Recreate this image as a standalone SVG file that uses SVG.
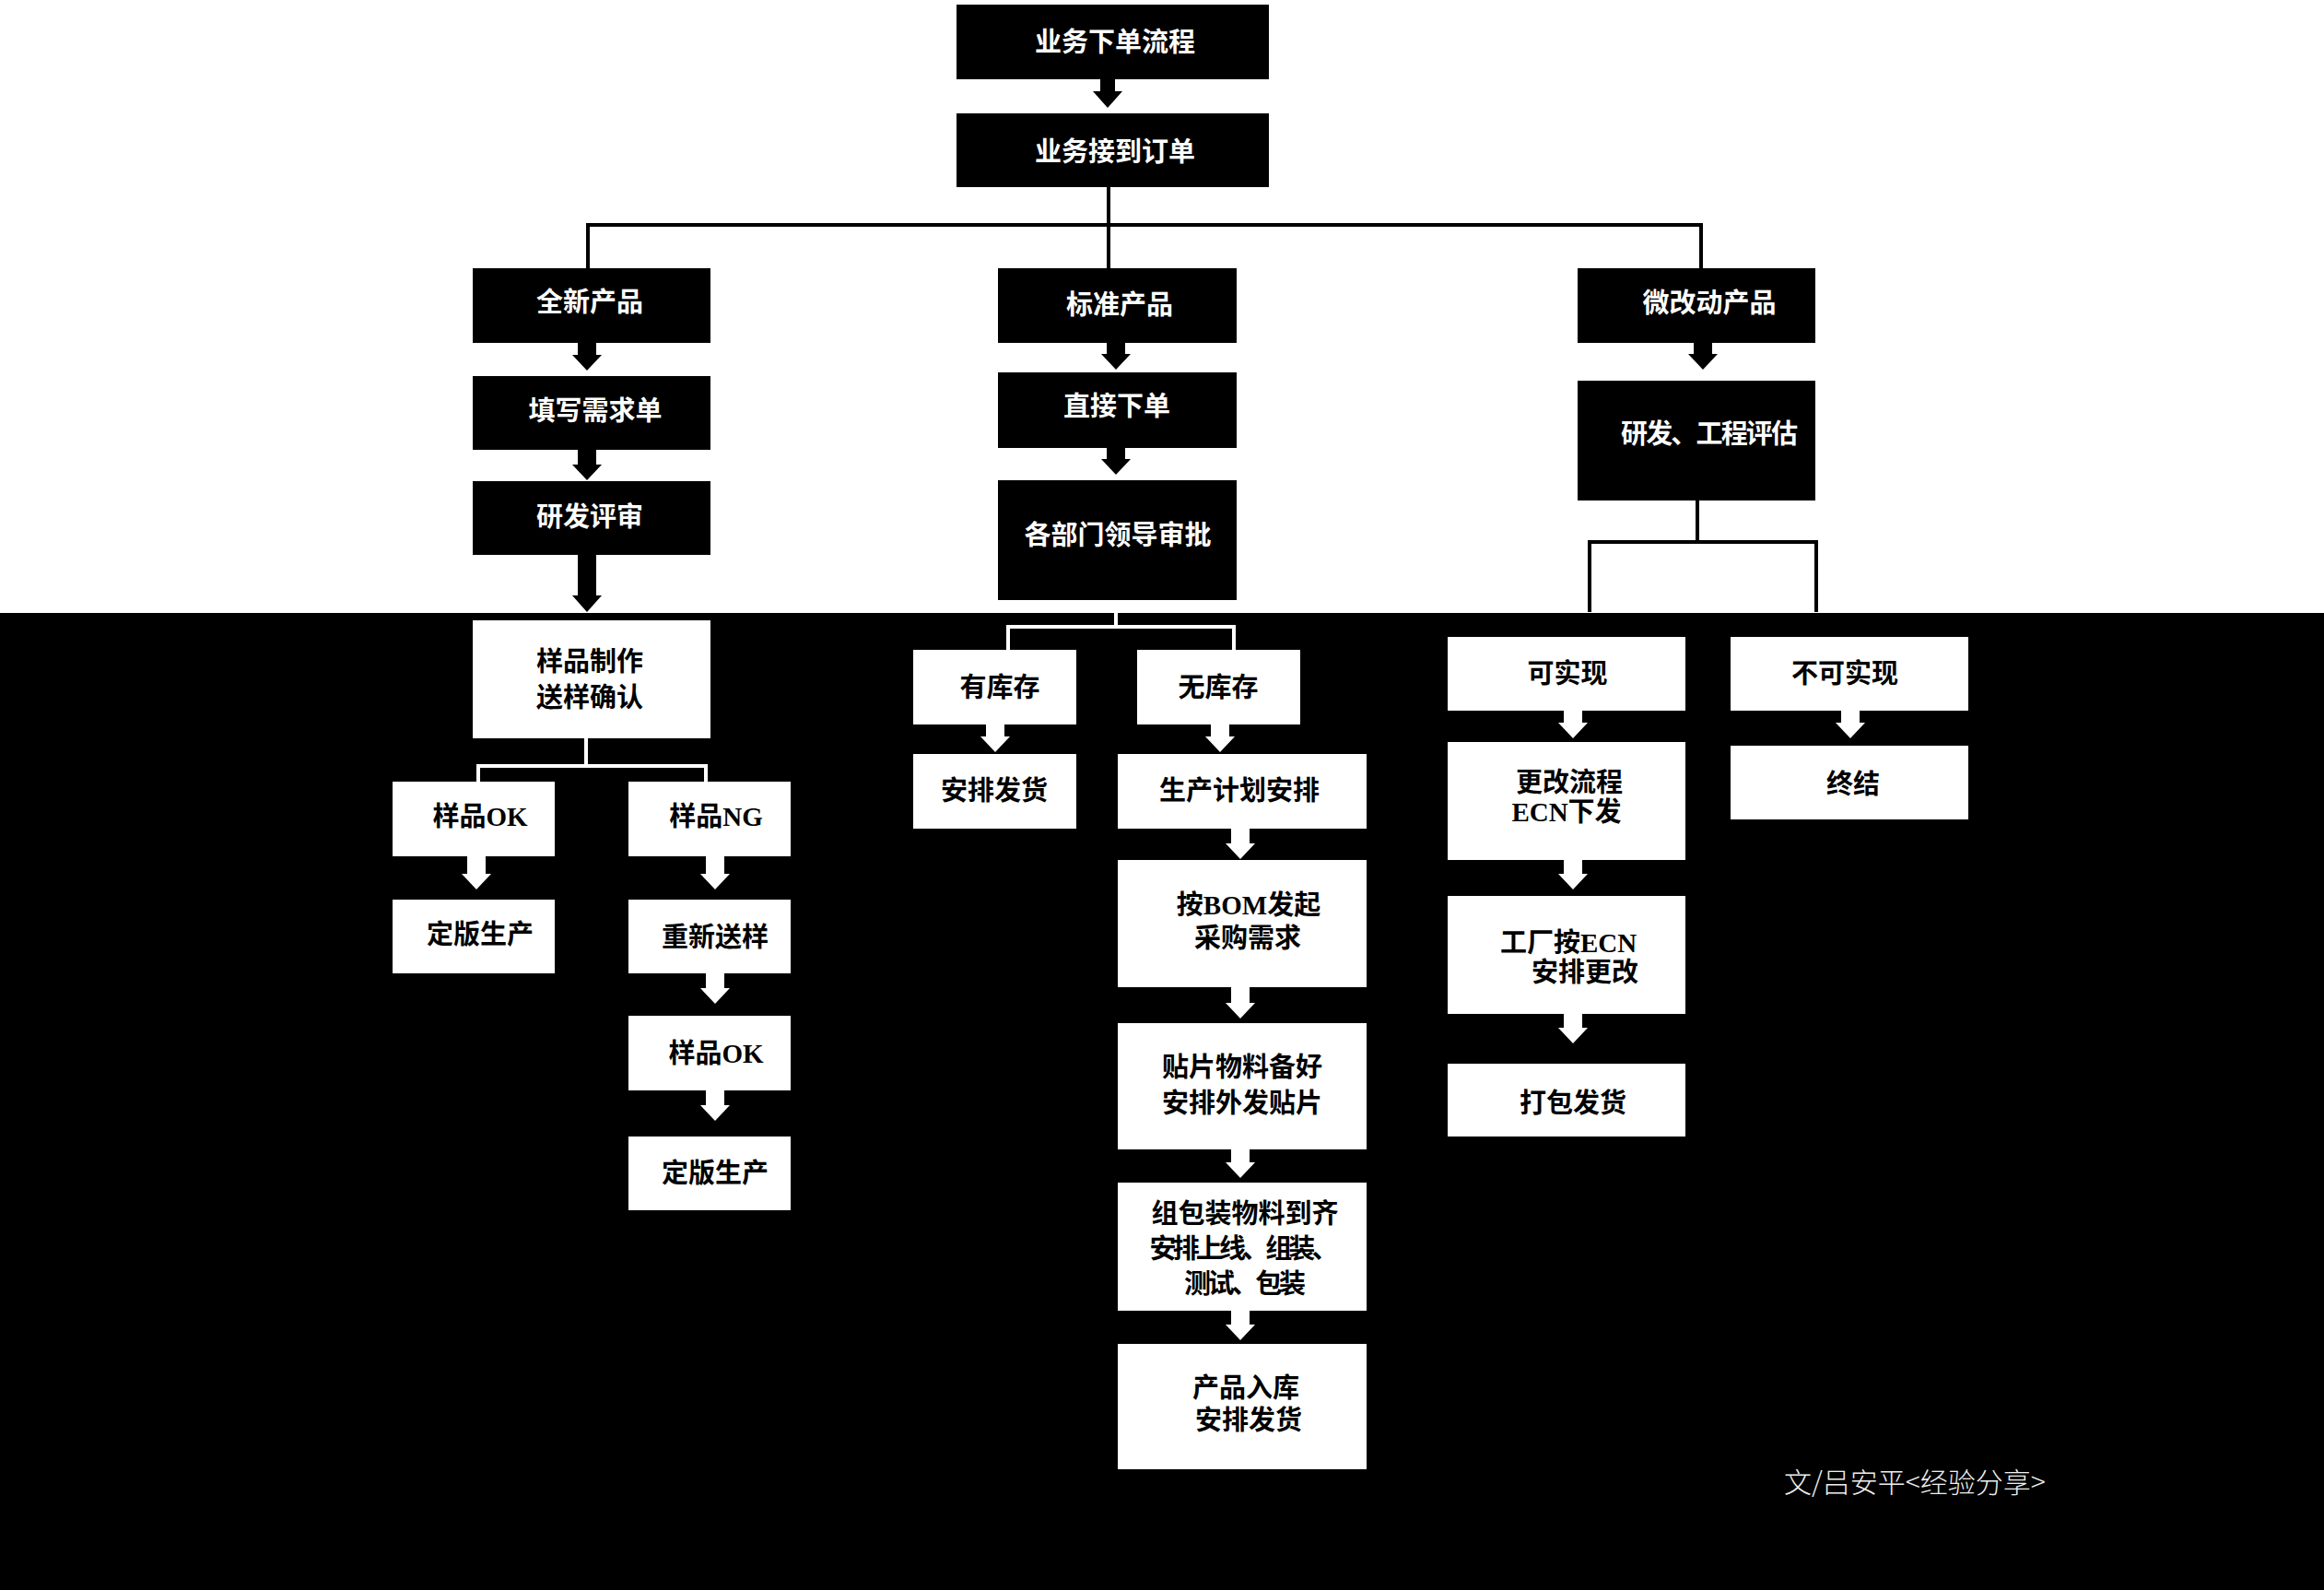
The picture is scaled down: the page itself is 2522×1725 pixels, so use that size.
<svg xmlns="http://www.w3.org/2000/svg" width="2522" height="1725" viewBox="0 0 2522 1725">
<style>
.bbox{fill:#000}
.wbox{fill:#fff}
.tw{fill:#fff;font-family:"Liberation Serif","Noto Sans CJK SC",serif;font-size:29px;font-weight:bold;text-anchor:middle;dominant-baseline:central}
.tb{fill:#000;font-family:"Liberation Serif","Noto Sans CJK SC",serif;font-size:29px;font-weight:bold;text-anchor:middle;dominant-baseline:central}
.lb{stroke:#000;stroke-width:4;fill:none}
.lw{stroke:#fff;stroke-width:4;fill:none}
.ab{fill:#000}
.aw{fill:#fff}
.foot{fill:#eee;font-family:"Noto Sans CJK SC",sans-serif;font-size:30px;font-weight:300;dominant-baseline:central}
</style>
<rect x="0" y="0" width="2522" height="1725" fill="#000"/>
<rect x="0" y="0" width="2522" height="665" fill="#fff"/>

<g id="connectors">
<path class="lb" d="M1203,203 V291 M638,291 V244 H1846 V291"/>
<path class="lb" d="M1842,543 V588 M1725,664 V588 H1971 V664"/>
<path class="lw" d="M636,801 V831 M519,848 V831 H766 V848"/>
<path class="lw" d="M1211,649 V680 M1094,705 V680 H1339 V705"/>
<polygon class="ab" points="1194,86 1210,86 1210,99 1218,99 1202,117 1186,99 1194,99"/>
<polygon class="ab" points="627,372 647,372 647,385 653,385 637,402 621,385 627,385"/>
<polygon class="ab" points="627,488 647,488 647,504 653,504 637,521 621,504 627,504"/>
<polygon class="ab" points="627,602 647,602 647,646 653,646 637,664 621,646 627,646"/>
<polygon class="ab" points="1201,372 1221,372 1221,384 1227,384 1211,401 1195,384 1201,384"/>
<polygon class="ab" points="1201,486 1221,486 1221,498 1227,498 1211,515 1195,498 1201,498"/>
<polygon class="ab" points="1838,372 1858,372 1858,384 1864,384 1848,401 1832,384 1838,384"/>
<polygon class="aw" points="1070,786 1090,786 1090,799 1096,799 1080,816 1064,799 1070,799"/>
<polygon class="aw" points="1314,786 1334,786 1334,799 1340,799 1324,816 1308,799 1314,799"/>
<polygon class="aw" points="1336,899 1356,899 1356,915 1362,915 1346,932 1330,915 1336,915"/>
<polygon class="aw" points="1336,1071 1356,1071 1356,1088 1362,1088 1346,1105 1330,1088 1336,1088"/>
<polygon class="aw" points="1336,1247 1356,1247 1356,1261 1362,1261 1346,1278 1330,1261 1336,1261"/>
<polygon class="aw" points="1336,1422 1356,1422 1356,1437 1362,1437 1346,1454 1330,1437 1336,1437"/>
<polygon class="aw" points="507,929 527,929 527,948 533,948 517,965 501,948 507,948"/>
<polygon class="aw" points="766,929 786,929 786,948 792,948 776,965 760,948 766,948"/>
<polygon class="aw" points="766,1056 786,1056 786,1072 792,1072 776,1089 760,1072 766,1072"/>
<polygon class="aw" points="766,1183 786,1183 786,1199 792,1199 776,1216 760,1199 766,1199"/>
<polygon class="aw" points="1697,771 1717,771 1717,784 1723,784 1707,801 1691,784 1697,784"/>
<polygon class="aw" points="1697,933 1717,933 1717,948 1723,948 1707,965 1691,948 1697,948"/>
<polygon class="aw" points="1697,1100 1717,1100 1717,1115 1723,1115 1707,1132 1691,1115 1697,1115"/>
<polygon class="aw" points="1998,771 2018,771 2018,784 2024,784 2008,801 1992,784 1998,784"/>
</g>

<g id="n1"><rect class="bbox" x="1038" y="5" width="339" height="81"/><text class="tw" x="1210" y="46">业务下单流程</text></g>
<g id="n2"><rect class="bbox" x="1038" y="123" width="339" height="80"/><text class="tw" x="1210" y="165">业务接到订单</text></g>
<g id="n3"><rect class="bbox" x="513" y="291" width="258" height="81"/><text class="tw" x="640" y="328">全新产品</text></g>
<g id="n4"><rect class="bbox" x="513" y="408" width="258" height="80"/><text class="tw" x="646" y="446">填写需求单</text></g>
<g id="n5"><rect class="bbox" x="513" y="522" width="258" height="80"/><text class="tw" x="640" y="561">研发评审</text></g>
<g id="n6"><rect class="bbox" x="1083" y="291" width="259" height="81"/><text class="tw" x="1215" y="331">标准产品</text></g>
<g id="n7"><rect class="bbox" x="1083" y="404" width="259" height="82"/><text class="tw" x="1212" y="441">直接下单</text></g>
<g id="n8"><rect class="bbox" x="1083" y="521" width="259" height="130"/><text class="tw" x="1213" y="581">各部门领导审批</text></g>
<g id="n9"><rect class="bbox" x="1712" y="291" width="258" height="81"/><text class="tw" x="1855" y="329">微改动产品</text></g>
<g id="n10"><rect class="bbox" x="1712" y="413" width="258" height="130"/><text class="tw" x="1855" y="471" textLength="192" lengthAdjust="spacing">研发、工程评估</text></g>

<g id="n11"><rect class="wbox" x="513" y="673" width="258" height="128"/><text class="tb" x="640" y="718">样品制作</text><text class="tb" x="640" y="757">送样确认</text></g>
<g id="n12"><rect class="wbox" x="426" y="848" width="176" height="81"/><text class="tb" x="521" y="886">样品OK</text></g>
<g id="n13"><rect class="wbox" x="682" y="848" width="176" height="81"/><text class="tb" x="777" y="886">样品NG</text></g>
<g id="n14"><rect class="wbox" x="426" y="976" width="176" height="80"/><text class="tb" x="521" y="1014">定版生产</text></g>
<g id="n15"><rect class="wbox" x="682" y="976" width="176" height="80"/><text class="tb" x="776" y="1017">重新送样</text></g>
<g id="n16"><rect class="wbox" x="682" y="1102" width="176" height="81"/><text class="tb" x="777" y="1143">样品OK</text></g>
<g id="n17"><rect class="wbox" x="682" y="1233" width="176" height="80"/><text class="tb" x="776" y="1273">定版生产</text></g>

<g id="n18"><rect class="wbox" x="991" y="705" width="177" height="81"/><text class="tb" x="1085" y="746">有库存</text></g>
<g id="n19"><rect class="wbox" x="1234" y="705" width="177" height="81"/><text class="tb" x="1322" y="746">无库存</text></g>
<g id="n20"><rect class="wbox" x="991" y="818" width="177" height="81"/><text class="tb" x="1079" y="858">安排发货</text></g>
<g id="n21"><rect class="wbox" x="1213" y="818" width="270" height="81"/><text class="tb" x="1345" y="858">生产计划安排</text></g>
<g id="n22"><rect class="wbox" x="1213" y="933" width="270" height="138"/><text class="tb" x="1355" y="982">按BOM发起</text><text class="tb" x="1354" y="1018">采购需求</text></g>
<g id="n23"><rect class="wbox" x="1213" y="1110" width="270" height="137"/><text class="tb" x="1348" y="1158">贴片物料备好</text><text class="tb" x="1348" y="1197">安排外发贴片</text></g>
<g id="n24"><rect class="wbox" x="1213" y="1283" width="270" height="139"/><text class="tb" x="1351" y="1317">组包装物料到齐</text><text class="tb" x="1350" y="1355" textLength="205" lengthAdjust="spacing">安排上线、组装、</text><text class="tb" x="1351" y="1393" textLength="132" lengthAdjust="spacing">测试、包装</text></g>
<g id="n25"><rect class="wbox" x="1213" y="1458" width="270" height="136"/><text class="tb" x="1352" y="1506">产品入库</text><text class="tb" x="1355" y="1541">安排发货</text></g>

<g id="n26"><rect class="wbox" x="1571" y="691" width="258" height="80"/><text class="tb" x="1701" y="731">可实现</text></g>
<g id="n27"><rect class="wbox" x="1878" y="691" width="258" height="80"/><text class="tb" x="2002" y="731">不可实现</text></g>
<g id="n28"><rect class="wbox" x="1571" y="805" width="258" height="128"/><text class="tb" x="1703" y="849">更改流程</text><text class="tb" x="1700" y="881">ECN下发</text></g>
<g id="n29"><rect class="wbox" x="1878" y="809" width="258" height="80"/><text class="tb" x="2011" y="851">终结</text></g>
<g id="n30"><rect class="wbox" x="1571" y="972" width="258" height="128"/><text class="tb" x="1702" y="1023">工厂按ECN</text><text class="tb" x="1720" y="1055">安排更改</text></g>
<g id="n31"><rect class="wbox" x="1571" y="1154" width="258" height="79"/><text class="tb" x="1707" y="1197">打包发货</text></g>

<text class="foot" x="1936" y="1606">文/吕安平&lt;经验分享&gt;</text>
</svg>
